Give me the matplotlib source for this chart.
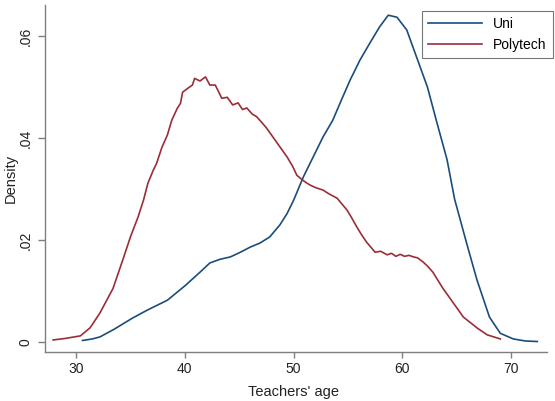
import matplotlib
matplotlib.use("Agg")
import matplotlib.pyplot as plt

plt.rcParams['font.family'] = ['Liberation Sans', 'DejaVu Sans']

# Uni density curve
uni_age = [30.6, 31.5, 32.2, 33.5, 35.2, 36.5, 38.4, 40.0, 41.4, 42.3, 43.2, 44.2, 45.1,
           46.0, 46.9, 47.8, 48.75, 49.4, 50.0, 50.9, 51.8, 52.7, 53.6, 54.4, 55.2,
           56.1, 57.0, 57.9, 58.7, 59.5, 60.4, 61.3, 62.3, 63.2, 64.1, 64.8, 65.9,
           66.85, 68.0, 69.0, 70.2, 71.3, 72.4]
uni_dens = [0.0003, 0.0006, 0.001, 0.0025, 0.0047, 0.0062, 0.0082, 0.0110, 0.0137, 0.0155,
            0.0162, 0.0167, 0.0176, 0.0186, 0.0194, 0.0206, 0.0230, 0.0252, 0.0278, 0.0324,
            0.0363, 0.0402, 0.0435, 0.0475, 0.0514, 0.0553, 0.0586, 0.0618, 0.0641, 0.0637,
            0.0612, 0.0559, 0.0500, 0.0428, 0.0358, 0.0280, 0.0194, 0.0122, 0.0049, 0.0017,
            0.0006, 0.0002, 0.0001]

# Polytech density curve
poly_age = [27.9, 29.0, 30.4, 31.3, 32.2, 33.4, 34.3, 35.0, 35.7, 36.2, 36.6, 37.1, 37.4,
            37.9, 38.4, 38.8, 39.3, 39.6, 39.8, 40.3, 40.7, 40.9, 41.4, 41.9, 42.3, 42.8,
            43.4, 43.9, 44.4, 44.9, 45.3, 45.7, 46.2, 46.6, 47.1, 47.5, 48.0, 48.5, 49.0,
            49.4, 49.9, 50.3, 50.8, 51.2, 51.5, 52.0, 52.7, 53.3, 54.0, 54.9, 55.3, 55.8,
            56.2, 56.7, 57.1, 57.5, 58.0, 58.6, 59.0, 59.4, 59.8, 60.2, 60.6, 61.0, 61.4,
            61.9, 62.3, 62.8, 63.7, 64.7, 65.6, 66.9, 67.8, 69.0]
poly_dens = [0.0004, 0.0007, 0.0012, 0.0028, 0.0057, 0.0105, 0.0161, 0.0206, 0.0245, 0.0278,
             0.0311, 0.0337, 0.0350, 0.0382, 0.0406, 0.0435, 0.0458, 0.0468, 0.0490, 0.0498,
             0.0504, 0.0517, 0.0512, 0.0520, 0.0504, 0.0504, 0.0478, 0.0480, 0.0465, 0.0469,
             0.0456, 0.0459, 0.0447, 0.0442, 0.0430, 0.0420, 0.0405, 0.0390, 0.0375, 0.0363,
             0.0345, 0.0327, 0.0318, 0.0312, 0.0308, 0.0303, 0.0298, 0.0290, 0.0282, 0.0259,
             0.0245, 0.0226, 0.0212, 0.0196, 0.0186, 0.0176, 0.0178, 0.0171, 0.0174, 0.0168,
             0.0172, 0.0168, 0.0170, 0.0167, 0.0165, 0.0157, 0.0149, 0.0137, 0.0106, 0.0076,
             0.0049, 0.0027, 0.0014, 0.0006]

x_ticks = [30, 40, 50, 60, 70]
y_ticks = [0, 0.02, 0.04, 0.06]
y_tick_labels = ['0', '.02', '.04', '.06']
series_names = ['Uni', 'Polytech']

uni_color = '#1a4d7c'
poly_color = '#9b2d37'
spine_color = '#7f7f7f'
text_color = '#222222'

fig = plt.figure(figsize=(5.55, 4.01), dpi=100)
ax = fig.add_axes([45 / 555, (401 - 352) / 401, (547 - 45) / 555, (352 - 5) / 401])

ax.plot(uni_age, uni_dens, color=uni_color, lw=1.2, label=series_names[0])
ax.plot(poly_age, poly_dens, color=poly_color, lw=1.2, label=series_names[1])

ax.set_xlim(27.15, 73.29)
ax.set_ylim(-0.00196, 0.0661)
ax.set_xticks(x_ticks)
ax.set_yticks(y_ticks)
ax.set_yticklabels(y_tick_labels, rotation=90, va='center')

for s in ['top', 'right']:
    ax.spines[s].set_visible(False)
for s in ['left', 'bottom']:
    ax.spines[s].set_color(spine_color)
    ax.spines[s].set_linewidth(1.0)

ax.tick_params(axis='both', colors=spine_color, labelcolor=text_color, labelsize=10,
               width=1.0)
ax.tick_params(axis='x', length=4, pad=3)
ax.tick_params(axis='y', length=5, pad=4)

ax.set_xlabel("Teachers' age", fontsize=10.5, color=text_color)
ax.set_ylabel('Density', fontsize=10.5, color=text_color)
ax.xaxis.set_label_coords((293 - 45) / 502, (352 - 385) / 347)
ax.yaxis.set_label_coords((18 - 45) / 502, 0.5)

leg = ax.legend(loc='upper right', bbox_to_anchor=(1.012, 0.983), fontsize=10,
                frameon=True, fancybox=False, handlelength=3.9, handletextpad=0.8,
                borderpad=0.45, labelspacing=0.5, borderaxespad=0.0)
leg.get_frame().set_edgecolor('#555555')
leg.get_frame().set_linewidth(0.8)

fig.savefig('out.png', dpi=100)
